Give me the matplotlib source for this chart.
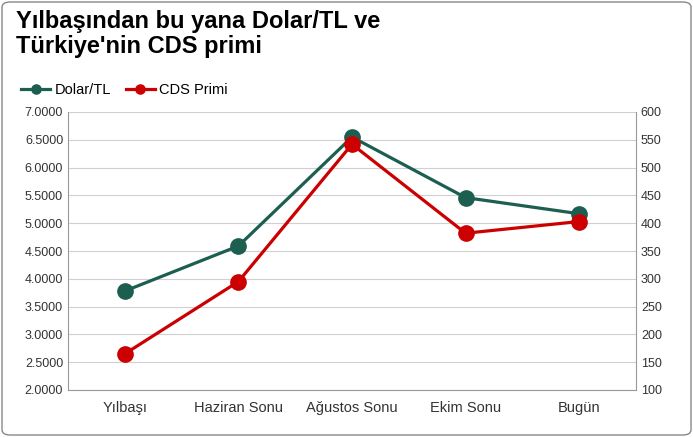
import matplotlib
matplotlib.use("Agg")
import matplotlib.pyplot as plt
from matplotlib.patches import FancyBboxPatch
plt.rcParams["font.family"] = "Liberation Sans"

categories = ["Yılbaşı", "Haziran Sonu", "Ağustos Sonu", "Ekim Sonu", "Bugün"]
dolar_tl = [3.78, 4.59, 6.55, 5.46, 5.17]
cds_primi = [165, 295, 542, 382, 403]
left_ticks = [2.0, 2.5, 3.0, 3.5, 4.0, 4.5, 5.0, 5.5, 6.0, 6.5, 7.0]
right_ticks = list(range(100, 601, 50))

W, H = 693, 437
fig = plt.figure(figsize=(W/100, H/100), dpi=100)
fig.patches.append(FancyBboxPatch((2/W, 2/H), 1-4/W, 1-4/H, boxstyle="round,pad=0,rounding_size=0.012",
                                  transform=fig.transFigure, fill=False, edgecolor="#888888", lw=1))
ax = fig.add_axes([68/W, 1-390/H, (636-68)/W, (390-112)/H])
ax2 = ax.twinx()
x = range(len(categories))
green, red = "#1C5E50", "#CC0000"
ax.plot(x, dolar_tl, color=green, lw=2.3, marker="o", ms=11, label="Dolar/TL", zorder=3)
ax2.plot(x, cds_primi, color=red, lw=2.3, marker="o", ms=11, label="CDS Primi", zorder=3)
ax.set_ylim(2.0, 7.0); ax2.set_ylim(100, 600)
ax.set_yticks(left_ticks); ax.set_yticklabels([f"{v:.4f}" for v in left_ticks])
ax2.set_yticks(right_ticks)
ax.set_xlim(-0.5, len(categories)-0.5)
ax.set_xticks(list(x)); ax.set_xticklabels(categories)
ax.grid(axis="y", color="#D0D0D0", lw=0.8); ax.set_axisbelow(True)
for a in (ax, ax2):
    a.tick_params(labelsize=9, length=0, colors="#333333")
    for s in a.spines.values(): s.set_visible(False)
ax.tick_params(axis="x", labelsize=10.5, pad=8)
ax.spines["left"].set_visible(True); ax.spines["left"].set_color("#999999")
ax2.spines["right"].set_visible(True); ax2.spines["right"].set_color("#999999")
ax.spines["bottom"].set_visible(True); ax.spines["bottom"].set_color("#999999")
fig.text(16/W, 1-10/H, "Yılbaşından bu yana Dolar/TL ve\nTürkiye'nin CDS primi", fontsize=17,
         fontweight="bold", va="top", ha="left", linespacing=1.1)
h1, l1 = ax.get_legend_handles_labels(); h2, l2 = ax2.get_legend_handles_labels()
fig.legend(h1+h2, l1+l2, loc="upper left", bbox_to_anchor=(8/W, 1-70/H), ncol=2, frameon=False,
           fontsize=10.5, handlelength=2, columnspacing=1.0, handletextpad=0.3, markerscale=0.6)
fig.savefig("out.png", dpi=100)
